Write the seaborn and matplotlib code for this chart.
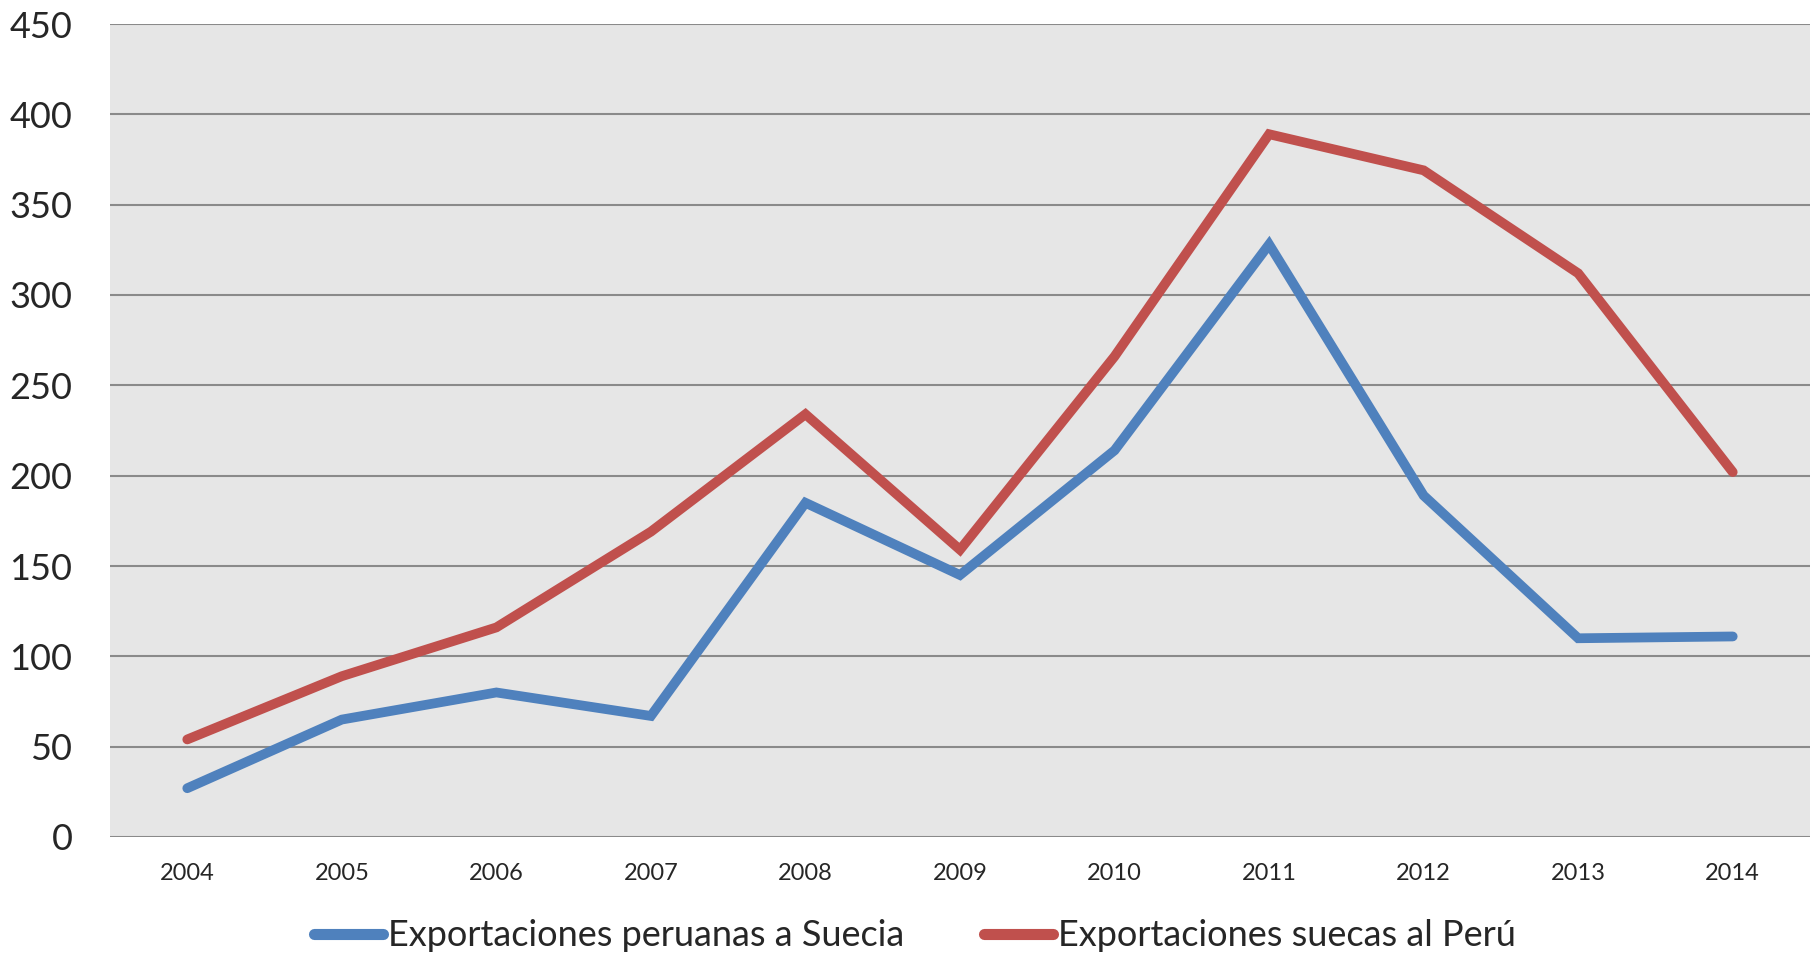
import pandas as pd
import matplotlib
matplotlib.use("Agg")
import matplotlib.pyplot as plt
import seaborn as sns

# data
years = [2004, 2005, 2006, 2007, 2008, 2009, 2010, 2011, 2012, 2013, 2014]
peru_to_sweden = [27, 65, 80, 67, 185, 145, 214, 328, 189, 110, 111]
sweden_to_peru = [54, 89, 116, 169, 234, 159, 266, 389, 369, 312, 202]
series_names = ["Exportaciones peruanas a Suecia", "Exportaciones suecas al Perú"]
y_ticks = [0, 50, 100, 150, 200, 250, 300, 350, 400, 450]

df = pd.DataFrame({
    "year": years * 2,
    "value": peru_to_sweden + sweden_to_peru,
    "serie": [series_names[0]] * len(years) + [series_names[1]] * len(years),
})

sns.set_theme(style="white")
plt.rcParams["font.family"] = ["Lato", "DejaVu Sans"]

fig = plt.figure(figsize=(18.2, 9.58), dpi=100)
ax = fig.add_axes([110 / 1820, 121 / 958, 1700 / 1820, 813 / 958])
ax.set_facecolor("#E6E6E6")

sns.lineplot(data=df, x="year", y="value", hue="serie",
             palette=["#4F81BD", "#C0504D"], linewidth=7,
             solid_capstyle="round", solid_joinstyle="miter", ax=ax, legend=False)

ax.set_xlim(years[0] - 0.5, years[-1] + 0.5)
ax.set_ylim(0, 450)
ax.set_xticks(years)
ax.set_xticklabels([str(y) for y in years], fontsize=17)
ax.set_yticks(y_ticks)
ax.set_yticklabels([str(t) for t in y_ticks], fontsize=26)
ax.tick_params(axis="x", length=0, pad=19)
ax.tick_params(axis="y", length=0, pad=27)
ax.yaxis.grid(True, color="#8A8A8A", linewidth=1.5)
ax.set_axisbelow(True)
for s in ax.spines.values():
    s.set_visible(False)
ax.set_xlabel("")
ax.set_ylabel("")

handles = [plt.Line2D([0], [0], color=c, linewidth=8, solid_capstyle="round")
           for c in ["#4F81BD", "#C0504D"]]
fig.legend(handles, series_names, loc="center", bbox_to_anchor=(915 / 1820, 1 - 936 / 958),
           ncol=2, frameon=False, fontsize=26, handlelength=1.9, handletextpad=0.15,
           columnspacing=2.2)

fig.savefig("out.png", dpi=100)
